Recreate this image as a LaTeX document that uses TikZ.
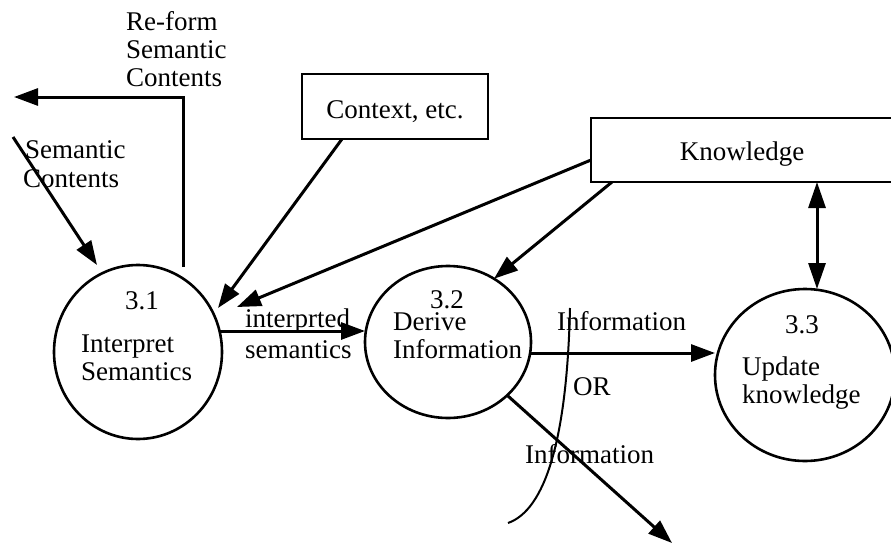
\documentclass[tikz,border=0pt]{standalone}
\usepackage{fontspec}
\setmainfont{Liberation Serif}
\usetikzlibrary{arrows.meta,shapes.geometric}

\begin{document}
\begin{tikzpicture}[x=1pt,y=-1pt,
  font=\fontsize{27}{29}\selectfont,
  proc/.style={ellipse, draw, line width=2.6pt, inner sep=0pt, outer sep=0pt},
  store/.style={rectangle, draw, line width=2.8pt, inner sep=0pt, outer sep=0pt},
  flow/.style={line width=3pt, -{Triangle[length=24pt,width=17pt]}},
  dflow/.style={line width=3pt, {Triangle[length=26pt,width=17pt]}-{Triangle[length=26pt,width=17pt]}},
  lbl/.style={anchor=base west, inner sep=0pt},
  num/.style={anchor=base, inner sep=0pt}]
\useasboundingbox (0,0) rectangle (891,546);
\fill[white] (0,0) rectangle (891,546);

% processes
\node[proc, minimum width=168pt, minimum height=174pt] (p31) at (138,352) {};
\node[proc, minimum width=166pt, minimum height=152pt] (p32) at (448,342) {};
\node[proc, minimum width=180pt, minimum height=172pt] (p33) at (805,375) {};

% stores / external entities
\node[store, minimum width=186pt, minimum height=65pt, text height=23pt, text depth=0pt] (ctx) at (395,106.5) {Context, etc.};
\node[store, minimum width=302pt, minimum height=64pt, text height=20pt, text depth=0pt] (know) at (742,150) {Knowledge};

% process texts
\node[num] (n31) at (142,309) {3.1};
\node[lbl] (t31a) at (81,352) {Interpret};
\node[lbl] (t31b) at (81,380) {Semantics};
\node[num] (n32) at (447,308) {3.2};
\node[lbl] (t32a) at (393,330) {Derive};
\node[lbl] (t32b) at (393,358) {Information};
\node[num] (n33) at (802,333) {3.3};
\node[lbl] (t33a) at (742,375) {Update};
\node[lbl] (t33b) at (742,403) {knowledge};

% flow labels
\node[lbl] (rfa) at (126,30) {Re-form};
\node[lbl] (rfb) at (126,58) {Semantic};
\node[lbl] (rfc) at (126,86) {Contents};
\node[lbl] (sca) at (25,158) {Semantic};
\node[lbl] (scb) at (23,187) {Contents};
\node[lbl] (isa) at (245,327) {interprted};
\node[lbl] (isb) at (245,358) {semantics};
\node[lbl] (inf1) at (557,330) {Information};
\node[lbl] (orl) at (573,395) {OR};
\node[lbl] (inf2) at (525,463) {Information};

% free ends
\coordinate (rf) at (14,97);
\coordinate (sc) at (13,137);
\coordinate (out) at (672,543);
\path ([xshift=75pt]know.south) coordinate (kd);
\path ([xshift=-2pt,yshift=21pt]p31.east) coordinate (is0);
\path ([yshift=-11pt]p32.east) coordinate (inf0);

% flows
\draw[flow] ([xshift=45pt,yshift=-2pt]p31.north) |- (rf);
\draw[flow] (sc) -- ([xshift=-41pt]p31.north);
\draw[flow] ([xshift=40pt]ctx.south west) -- ([xshift=-4pt,yshift=44pt]p31.east);
\draw[flow] ([yshift=-10pt]know.west) -- ([xshift=15pt,yshift=45pt]p31.east);
\draw[flow] ([xshift=21pt]know.south west) -- (p32.54);
\draw[flow] (is0) -- (is0 -| p32.west);
\draw[flow] (inf0) -- (inf0 -| p33.west);
\draw[flow] (p32.-42.5) -- (out);
\draw[dflow] (kd) -- (kd |- p33.north);

% alternative separator
\draw[line width=2pt] (570,308) .. controls (567,440) and (545,510) .. (508,523);
\end{tikzpicture}
\end{document}
